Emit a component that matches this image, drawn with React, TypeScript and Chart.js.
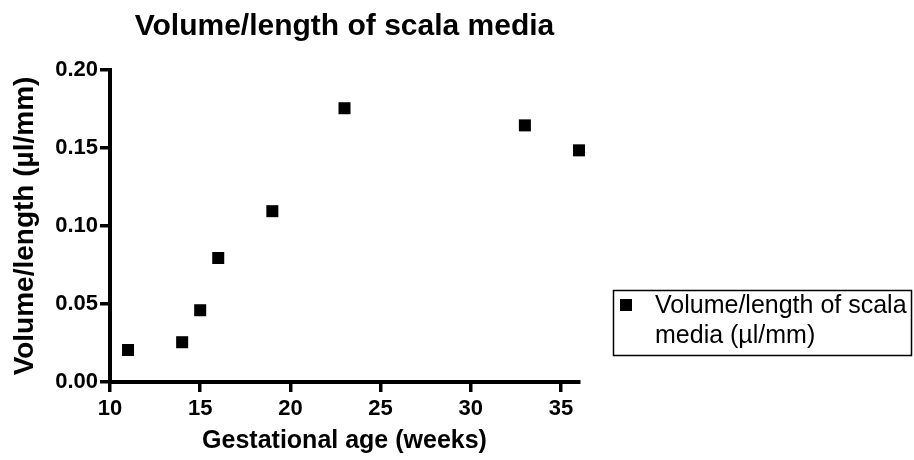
import React, { useEffect, useRef } from "react";
import { Chart, registerables } from "chart.js";

Chart.register(...registerables);

const chartTitle = "Volume/length of scala media";
const xTitle = "Gestational age (weeks)";
const yTitle = "Volume/length (µl/mm)";
const legendLines = ["Volume/length of scala", "media (µl/mm)"];

const weeks = [11, 14, 15, 16, 19, 23, 33, 36];
const volumePerLength = [0.0205, 0.0255, 0.046, 0.0795, 0.1095, 0.1755, 0.1645, 0.1485];

const xMin = 10;
const xMax = 36;
const xStep = 5;
const yMin = 0;
const yMax = 0.2;
const yStep = 0.05;

const FONT = "'Liberation Sans', Arial, Helvetica, sans-serif";

const overlayPlugin = {
  id: "overlay",
  afterDraw(chart: any) {
    const ctx = chart.ctx;
    const ca = chart.chartArea;
    ctx.save();
    // Title
    ctx.fillStyle = "#000";
    ctx.font = `bold 30px ${FONT}`;
    ctx.textAlign = "center";
    ctx.textBaseline = "middle";
    ctx.fillText(chartTitle, (ca.left + ca.right) / 2, 27);

    // Legend box
    const bx = 613.5, by = 290.5, bw = 298, bh = 65;
    ctx.strokeStyle = "#000";
    ctx.lineWidth = 1.5;
    ctx.strokeRect(bx, by, bw, bh);
    ctx.fillRect(620, 299, 12, 12);
    ctx.font = `25px ${FONT}`;
    ctx.textAlign = "left";
    ctx.textBaseline = "middle";
    ctx.fillText(legendLines[0], 655, 306);
    ctx.fillText(legendLines[1], 655, 336);
    ctx.restore();
  },
};

export default function App() {
  const ref = useRef<HTMLCanvasElement | null>(null);
  useEffect(() => {
    if (!ref.current) return;
    const chart = new Chart(ref.current, {
      type: "scatter",
      data: {
        datasets: [
          {
            label: legendLines.join(" "),
            data: weeks.map((w, i) => ({ x: w, y: volumePerLength[i] })),
            pointStyle: "rect",
            pointRadius: 8.5,
            pointHoverRadius: 8.5,
            pointBorderWidth: 0,
            backgroundColor: "#000",
            borderColor: "#000",
            clip: false,
          } as any,
        ],
      },
      options: {
        responsive: false,
        animation: false,
        events: [],
        layout: { padding: { top: 70, right: 335, left: 0, bottom: 0 } },
        plugins: {
          legend: { display: false },
          title: { display: false },
          tooltip: { enabled: false },
        },
        scales: {
          x: {
            type: "linear",
            min: xMin,
            max: xMax,
            afterFit(scale: any) {
              scale.height = 78;
            },
            ticks: {
              stepSize: xStep,
              includeBounds: false,
              color: "#000",
              font: { family: FONT, size: 22, weight: "bold" },
              padding: 4,
              maxRotation: 0,
            },
            grid: {
              display: true,
              drawOnChartArea: false,
              drawTicks: true,
              tickLength: 10,
              color: "#000",
              lineWidth: 3.5,
            },
            border: { display: true, color: "#000", width: 4 },
            title: {
              display: true,
              text: xTitle,
              color: "#000",
              font: { family: FONT, size: 25, weight: "bold" },
              padding: { top: 0, bottom: 4 },
            },
          },
          y: {
            type: "linear",
            min: yMin,
            max: yMax,
            afterFit(scale: any) {
              scale.width = 110;
            },
            ticks: {
              stepSize: yStep,
              includeBounds: false,
              color: "#000",
              font: { family: FONT, size: 22, weight: "bold" },
              padding: 2,
              callback: (v: any) => Number(v).toFixed(2),
            },
            grid: {
              display: true,
              drawOnChartArea: false,
              drawTicks: true,
              tickLength: 10,
              color: "#000",
              lineWidth: 3.5,
            },
            border: { display: true, color: "#000", width: 4 },
            title: {
              display: true,
              text: yTitle,
              color: "#000",
              font: { family: FONT, size: 28, weight: "bold" },
              padding: { top: 8, bottom: 0 },
            },
          },
        },
      } as any,
      plugins: [overlayPlugin],
    });
    return () => chart.destroy();
  }, []);
  return (
    <div style={{ position: "absolute", left: 0, top: 0, width: 914, height: 460, background: "#fff" }}>
      <canvas ref={ref} width={914} height={460} />
    </div>
  );
}
